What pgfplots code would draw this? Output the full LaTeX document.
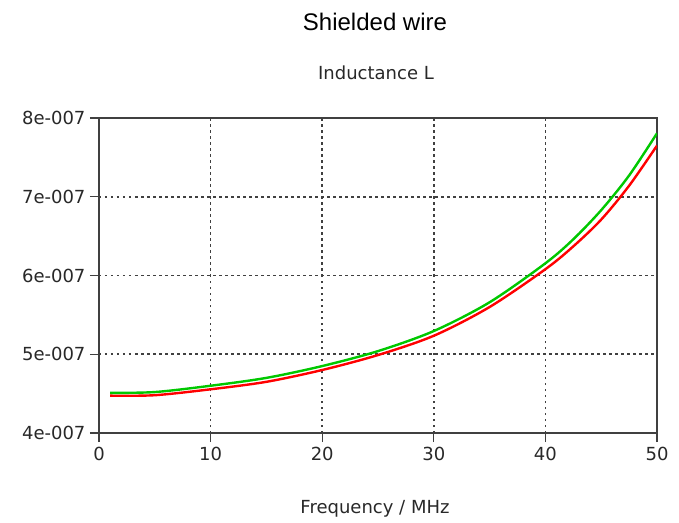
\documentclass[border=0pt]{standalone}
\usepackage{fontspec}
\setmainfont{DejaVu Sans}
\newfontfamily\arialfont{Liberation Sans}
\usepackage{pgfplots}
\pgfplotsset{compat=1.18}
\definecolor{axisgray}{RGB}{64,64,64}
\definecolor{txtgray}{RGB}{40,40,40}
\definecolor{lred}{RGB}{255,0,0}
\definecolor{lgreen}{RGB}{0,200,0}

\begin{document}
\begin{tikzpicture}
% page = 679 x 522, axis box lower-left at pixel (99,433)
\useasboundingbox (-99pt,-89pt) rectangle (580pt,433pt);
\begin{axis}[
    at={(0,0)}, anchor=south west,
    scale only axis,
    width=558pt, height=315pt,
    xmin=0, xmax=50,
    ymin=4e-7, ymax=8e-7,
    scaled y ticks=false,
    xtick={0,10,20,30,40,50},
    ytick={4e-7,5e-7,6e-7,7e-7,8e-7},
    yticklabels={4e-007,5e-007,6e-007,7e-007,8e-007},
    xtick pos=bottom, ytick pos=left,
    tick align=outside,
    major tick length=9pt,
    grid=major,
    major grid style={black!75, line width=1.6pt, dash pattern=on 2.5pt off 3.5pt},
    axis line style={axisgray, line width=1.3pt},
    tick style={axisgray, line width=1.3pt},
    ticklabel style={font=\fontsize{18}{20}\selectfont, text=txtgray},
    /pgf/number format/assume math mode=true,
    xticklabel style={yshift=-2pt},
    yticklabel style={xshift=-1pt},
    clip=true,
]
\addplot[lred, line width=2.4pt, smooth, tension=0.5] table {
    x    y
    1    4.474e-7
    5    4.48e-7
    10   4.555e-7
    15   4.65e-7
    20   4.80e-7
    25   4.99e-7
    30   5.235e-7
    35   5.60e-7
    40   6.08e-7
    42.5 6.37e-7
    45   6.71e-7
    47.5 7.14e-7
    50   7.65e-7
};
\addplot[lgreen, line width=2.4pt, smooth, tension=0.5] table {
    x    y
    1    4.51e-7
    5    4.52e-7
    10   4.60e-7
    15   4.70e-7
    20   4.85e-7
    25   5.04e-7
    30   5.295e-7
    35   5.66e-7
    40   6.155e-7
    42.5 6.46e-7
    45   6.83e-7
    47.5 7.27e-7
    50   7.806e-7
};
\end{axis}
\node[text=black, font=\arialfont\fontsize{24}{27}\selectfont] at (276pt,411pt) {Shielded wire};
\node[text=txtgray, font=\fontsize{18}{20}\selectfont] at (277pt,360pt) {Inductance L};
\node[text=txtgray, font=\fontsize{18}{20}\selectfont] at (276pt,-76pt) {Frequency / MHz};
\end{tikzpicture}
\end{document}
